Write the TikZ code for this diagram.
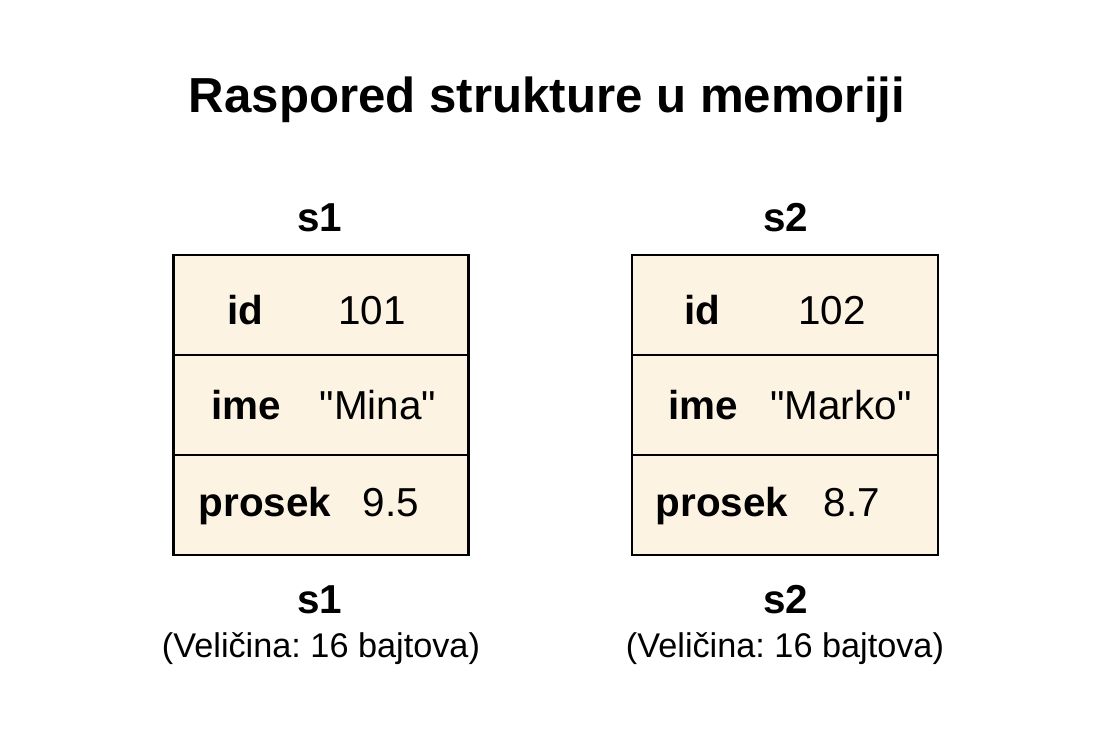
\documentclass[tikz,border=0pt]{standalone}
\usepackage{fontspec}
\setmainfont{Liberation Sans}
\usepackage{xcolor}
\usetikzlibrary{positioning}
\definecolor{cellfill}{HTML}{FDF3E2}
\frenchspacing

\begin{document}
\begin{tikzpicture}[x=0.02cm, y=-0.02cm, node distance=0pt]
		% Define styles
		\tikzstyle{cell} = [rectangle, minimum height=2cm, draw=black, line width=1.6pt, fill=cellfill, inner sep=0pt, outer sep=0pt]
		\tikzstyle{key} = [anchor=base, font=\fontsize{23}{26}\selectfont\bfseries]
		\tikzstyle{val} = [anchor=base, font=\fontsize{23}{26}\selectfont]
		\tikzstyle{structname} = [anchor=base, font=\fontsize{23}{26}\selectfont\bfseries]
		\tikzstyle{sizetext} = [anchor=base, font=\fontsize{19.5}{22}\selectfont]

		\useasboundingbox (0,0) rectangle (1100,733);

		% Title
		\node[anchor=base, font=\fontsize{28}{32}\selectfont\bfseries] (title) at (547,113) {Raspored strukture u memoriji};

		% Cells of s1
		\node[cell, minimum width=5.9cm] (idA) at (321,305) {};
		\node[cell, minimum width=5.9cm, below=of idA] (imeA) {};
		\node[cell, minimum width=5.9cm, below=of imeA] (prosekA) {};

		% Cells of s2
		\node[cell, minimum width=6.12cm] (idB) at (785,305) {};
		\node[cell, minimum width=6.12cm, below=of idB] (imeB) {};
		\node[cell, minimum width=6.12cm, below=of imeB] (prosekB) {};

		% Fields of s1
		\node[key] (kidA) at (245,325) {id};
		\node[val] (vidA) at (372,325) {101};
		\node[key] (kimeA) at (246,420) {ime};
		\node[val] (vimeA) at (378,420) {\textquotedbl Mina\textquotedbl};
		\node[key] (kprosekA) at (265,517) {prosek};
		\node[val] (vprosekA) at (391,517) {9.5};

		% Fields of s2
		\node[key] (kidB) at (702,325) {id};
		\node[val] (vidB) at (832,325) {102};
		\node[key] (kimeB) at (703,420) {ime};
		\node[val] (vimeB) at (841,420) {\textquotedbl Marko\textquotedbl};
		\node[key] (kprosekB) at (722,517) {prosek};
		\node[val] (vprosekB) at (852,517) {8.7};

		% Names and sizes
		\node[structname] (topA) at (320,232) {s1};
		\node[structname] (topB) at (786,232) {s2};
		\node[structname] (botA) at (320,613) {s1};
		\node[structname] (botB) at (786,613) {s2};
		\node[sizetext] (sizeA) at (321,657) {(Veličina: 16 bajtova)};
		\node[sizetext] (sizeB) at (785,657) {(Veličina: 16 bajtova)};
	\end{tikzpicture}
\end{document}
